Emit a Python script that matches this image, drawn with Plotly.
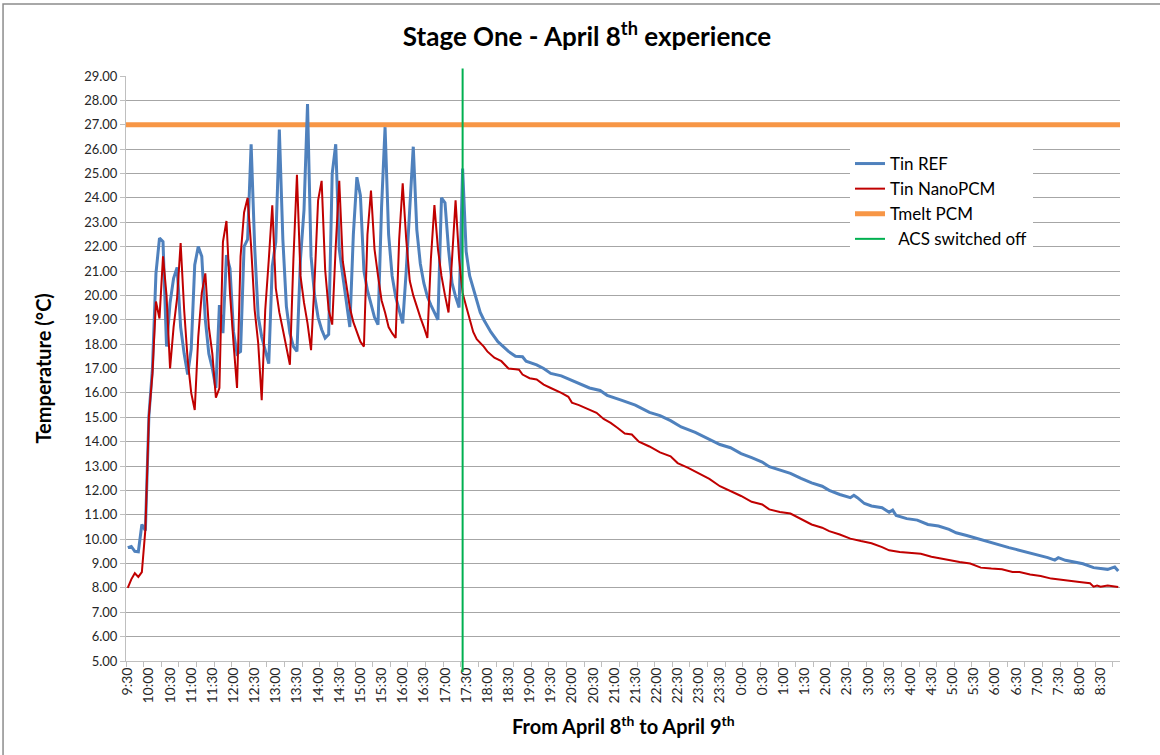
import plotly.graph_objects as go

# ---------------- data ----------------
# Readings every 5 minutes from 9:30 to 17:25 (ACS cycling period)
osc_start = "9:30"
osc_step_min = 5
ref_osc = [9.65, 9.7, 9.5, 9.48, 10.6, 10.35, 15.05, 17.0, 20.9, 22.35,
           22.2, 17.9, 19.7, 20.7, 21.15, 18.7, 17.6, 16.75, 17.8, 21.25,
           22.0, 21.6, 19.0, 17.6, 17.0, 16.2, 19.6, 18.45, 21.65, 21.1,
           18.5, 17.6, 17.7, 22.0, 22.3, 26.2, 22.0, 19.15, 18.3, 17.7,
           17.2, 21.2, 22.2, 26.8, 22.3, 19.55, 18.45, 17.9, 17.7, 21.5,
           23.5, 27.85, 21.6, 20.0, 19.1, 18.6, 18.25, 18.4, 25.0, 26.2,
           21.9, 20.8, 19.7, 18.7, 22.5, 24.85, 24.1, 21.0, 20.2, 19.6,
           19.1, 18.8, 23.6, 26.9, 22.5, 20.8, 19.95, 19.4, 18.85, 21.0,
           23.5, 26.1, 22.7, 21.3, 20.5, 19.95, 19.6, 19.3, 19.0, 24.0,
           23.8, 21.9, 20.5, 19.95, 19.5, 25.2]
nano_osc = [8.0, 8.35, 8.6, 8.45, 8.65, 10.4, 15.05, 16.8, 19.75, 19.05,
            21.6, 20.0, 17.0, 18.7, 19.9, 22.15, 19.4, 17.35, 16.0, 15.3,
            18.3, 20.1, 20.9, 18.7, 17.6, 15.8, 16.2, 22.2, 23.05, 20.1,
            18.05, 16.2, 21.6, 23.4, 24.0, 22.0, 19.4, 18.05, 15.7, 19.4,
            21.45, 23.7, 20.3, 19.3, 18.6, 17.8, 17.15, 21.5, 24.95, 20.8,
            19.7, 18.85, 17.75, 20.6, 23.9, 24.7, 21.05, 19.4, 18.8, 22.0,
            24.7, 21.4, 20.4, 19.5, 18.9, 18.5, 18.1, 17.9, 22.5, 24.3,
            21.9, 20.8, 19.8, 19.3, 18.7, 18.45, 18.25, 22.3, 24.6, 22.3,
            20.6, 20.0, 19.5, 19.1, 18.7, 18.25, 21.5, 23.7, 21.9, 20.8,
            20.0, 19.3, 21.5, 23.9, 21.5, 20.1]

# Free cooling after the ACS switched off (17:30 on April 8th -> 8:55 on April 9th)
ref_tail_times = ["17:30", "17:35", "17:40", "17:45", "17:50", "17:55", "18:00", "18:05",
                  "18:15", "18:25", "18:30", "18:40", "18:50", "18:55", "19:10", "19:20",
                  "19:30", "19:45", "20:00", "20:10", "20:25", "20:40", "20:50", "21:10",
                  "21:30", "21:50", "22:05", "22:20", "22:35", "22:55", "23:15", "23:30",
                  "23:45", "0:00", "0:15", "0:30", "0:40", "0:55", "1:10", "1:25",
                  "1:40", "1:55", "2:05", "2:20", "2:35", "2:40", "2:45", "2:55",
                  "3:05", "3:20", "3:30", "3:35", "3:40", "3:55", "4:10", "4:25",
                  "4:40", "4:55", "5:05", "5:20", "5:35", "5:50", "6:05", "6:20",
                  "6:30", "6:45", "7:00", "7:15", "7:25", "7:30", "7:40", "7:55",
                  "8:05", "8:20", "8:35", "8:40", "8:50", "8:55"]
ref_tail_vals = [21.8, 20.8, 20.3, 19.8, 19.3, 19.0, 18.75, 18.5,
                 18.1, 17.85, 17.7, 17.5, 17.48, 17.3, 17.15, 17.0,
                 16.8, 16.7, 16.5, 16.4, 16.2, 16.1, 15.9, 15.7,
                 15.5, 15.2, 15.07, 14.86, 14.6, 14.38, 14.09, 13.88,
                 13.75, 13.51, 13.34, 13.16, 12.97, 12.83, 12.7, 12.49,
                 12.31, 12.17, 12.0, 11.83, 11.7, 11.8, 11.7, 11.46,
                 11.36, 11.29, 11.1, 11.19, 10.97, 10.84, 10.78, 10.6,
                 10.54, 10.4, 10.26, 10.15, 10.02, 9.92, 9.78, 9.65,
                 9.58, 9.47, 9.37, 9.24, 9.14, 9.24, 9.13, 9.03,
                 8.99, 8.83, 8.8, 8.76, 8.86, 8.69]
nano_tail_times = ["17:30", "17:35", "17:40", "17:45", "17:55", "18:00", "18:10", "18:20",
                   "18:30", "18:40", "18:45", "18:50", "19:00", "19:10", "19:20", "19:30",
                   "19:35", "19:45", "19:55", "20:00", "20:10", "20:25", "20:35", "20:45",
                   "20:55", "21:05", "21:15", "21:25", "21:35", "21:50", "22:05", "22:20",
                   "22:30", "22:45", "23:00", "23:15", "23:30", "23:45", "0:00", "0:15",
                   "0:30", "0:40", "0:55", "1:10", "1:25", "1:40", "1:55", "2:05",
                   "2:20", "2:35", "2:50", "3:05", "3:20", "3:30", "3:45", "4:00",
                   "4:15", "4:30", "4:45", "5:00", "5:10", "5:25", "5:40", "5:55",
                   "6:10", "6:25", "6:35", "6:50", "7:05", "7:20", "7:35", "7:50",
                   "8:00", "8:15", "8:20", "8:25", "8:30", "8:40", "8:55"]
nano_tail_vals = [19.55, 19.0, 18.5, 18.2, 17.9, 17.7, 17.44, 17.3,
                  17.0, 16.97, 16.95, 16.75, 16.6, 16.55, 16.34, 16.2,
                  16.14, 16.0, 15.84, 15.6, 15.5, 15.3, 15.18, 14.93,
                  14.77, 14.56, 14.33, 14.29, 14.0, 13.8, 13.56, 13.4,
                  13.12, 12.92, 12.7, 12.47, 12.17, 11.97, 11.77, 11.53,
                  11.42, 11.22, 11.11, 11.05, 10.81, 10.6, 10.47, 10.33,
                  10.19, 10.02, 9.92, 9.83, 9.67, 9.54, 9.47, 9.42,
                  9.4, 9.28, 9.2, 9.1, 9.06, 9.0, 8.83, 8.79,
                  8.76, 8.65, 8.65, 8.55, 8.49, 8.38, 8.32, 8.28,
                  8.24, 8.19, 8.05, 8.1, 8.05, 8.1, 8.04]

tmelt_pcm = 27.0
acs_off_time = "17:25"
axis_first, axis_last = "9:30", "8:55"
tick_labels = ["9:30", "10:00", "10:30", "11:00", "11:30", "12:00", "12:30", "13:00",
               "13:30", "14:00", "14:30", "15:00", "15:30", "16:00", "16:30", "17:00",
               "17:30", "18:00", "18:30", "19:00", "19:30", "20:00", "20:30", "21:00",
               "21:30", "22:00", "22:30", "23:00", "23:30", "0:00", "0:30", "1:00",
               "1:30", "2:00", "2:30", "3:00", "3:30", "4:00", "4:30", "5:00",
               "5:30", "6:00", "6:30", "7:00", "7:30", "8:00", "8:30"]


# ---------------- helpers ----------------
def to_min(t):
    """minutes elapsed since 9:30 on April 8th (times before 9:30 are April 9th)"""
    h, m = map(int, t.split(":"))
    tot = h * 60 + m
    if tot < 9 * 60 + 30:
        tot += 1440
    return tot - (9 * 60 + 30)


osc_x = [to_min(osc_start) + osc_step_min * k for k in range(len(ref_osc))]
ref_x = osc_x + [to_min(t) for t in ref_tail_times]
ref_y = ref_osc + ref_tail_vals
nano_x = osc_x[:len(nano_osc)] + [to_min(t) for t in nano_tail_times]
nano_y = nano_osc + nano_tail_vals

half = osc_step_min / 2
x_lo = to_min(axis_first) - half
x_hi = to_min(axis_last) + half

FONT = "Lato, 'Open Sans', sans-serif"
TXT = "#262626"

fig = go.Figure()
fig.add_trace(go.Scatter(x=[x_lo, x_hi], y=[tmelt_pcm, tmelt_pcm], mode="lines",
                         name="Tmelt PCM", legendrank=3,
                         line=dict(color="#F79646", width=5)))
fig.add_trace(go.Scatter(x=ref_x, y=ref_y, mode="lines", name="Tin REF", legendrank=1,
                         line=dict(color="#4F81BD", width=3)))
fig.add_trace(go.Scatter(x=nano_x, y=nano_y, mode="lines", name="Tin NanoPCM", legendrank=2,
                         line=dict(color="#C00000", width=2)))
fig.add_trace(go.Scatter(x=[None], y=[None], mode="lines", name="\u00a0\u00a0ACS switched off",
                         legendrank=4, line=dict(color="#00B050", width=2)))

acs_x = to_min(acs_off_time)
fig.add_shape(type="line", xref="x", yref="paper", x0=acs_x, x1=acs_x, y0=-0.019, y1=1.013,
              line=dict(color="#00B050", width=2), layer="above")

# chart-area border (Excel style)
fig.add_shape(type="rect", xref="paper", yref="paper", x0=-0.1237, x1=1.05, y0=-0.17, y1=1.1231,
              line=dict(color="#8c8c8c", width=1.5), layer="below")

fig.update_layout(
    width=1160, height=755,
    margin=dict(l=126, r=40, t=76, b=94),
    paper_bgcolor="white", plot_bgcolor="white",
    font=dict(family=FONT, color=TXT, size=13),
    title=dict(text="<b>Stage One - April 8<sup>th</sup> experience</b>",
               x=587 / 1160, xref="container", xanchor="center",
               y=1 - 37 / 755, yref="container", yanchor="middle",
               font=dict(family=FONT, size=26, color="#000000")),
    showlegend=True,
    legend=dict(x=(850 - 126) / 994, y=(661 - 146) / 585, xanchor="left", yanchor="top",
                bgcolor="white", borderwidth=0, font=dict(family=FONT, size=17, color="#000000"),
                itemwidth=30, traceorder="normal"),
    xaxis=dict(range=[x_lo, x_hi], tickmode="array",
               tickvals=[to_min(t) for t in tick_labels], ticktext=tick_labels,
               tickangle=-90, ticks="", showgrid=False, zeroline=False,
               showline=True, linecolor="#bfbfbf", linewidth=1,
               tickfont=dict(family=FONT, size=14, color=TXT),
               minor=dict(ticks="outside", tick0=x_lo, dtick=5 * osc_step_min,
                          ticklen=5, tickcolor="#bfbfbf", tickwidth=1, showgrid=False)),
    yaxis=dict(range=[5, 29], dtick=1, tick0=5, tickformat=".2f",
               showgrid=True, gridcolor="#a6a6a6", gridwidth=1, zeroline=False,
               showline=True, linecolor="#bfbfbf", linewidth=1,
               ticks="outside", ticklen=5, tickcolor="#bfbfbf",
               tickfont=dict(family=FONT, size=13, color=TXT)),
    annotations=[
        dict(text="<b>From April 8<sup>th</sup> to April 9<sup>th</sup></b>", xref="paper", yref="paper",
             x=0.5, y=(661 - 725) / 585, xanchor="center", yanchor="middle", showarrow=False,
             font=dict(family=FONT, size=20, color="#000000")),
        dict(text="<b>Temperature (°C)</b>", xref="paper", yref="paper",
             x=(42 - 126) / 994, y=0.5, xanchor="center", yanchor="middle", textangle=-90,
             showarrow=False, font=dict(family=FONT, size=20, color="#000000")),
    ],
)

fig.write_html("out.html", config={"displayModeBar": False},
               post_script="document.body.style.margin='0';")
